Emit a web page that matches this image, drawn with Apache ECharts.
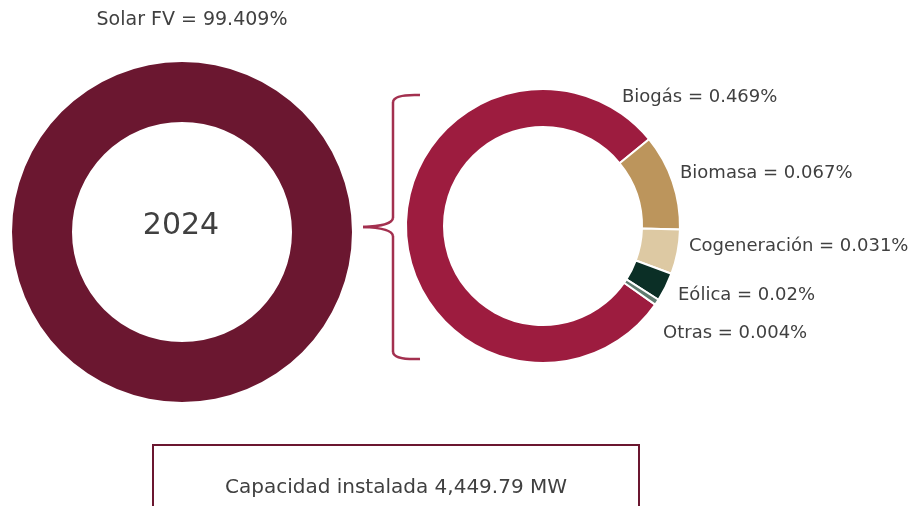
<!DOCTYPE html>
<html>
    <head>
        <meta charset="utf-8">
        <title>capacidad instalada 2024</title>
        <script src="https://cdn.jsdelivr.net/npm/echarts@6/dist/echarts.min.js"></script>
    </head>
    <body style="margin:0">
        <style>
            html, body, #main {
                width: 100%;
                height: 100%;
                background: #fff;
            }
        </style>
        <div id="main"></div>
        <script>
            // datos
            var year = '2024';
            var totalName = 'Solar FV';
            var totalValue = 99.409;
            var otherNames = ['Biogás', 'Biomasa', 'Cogeneración', 'Eólica', 'Otras'];
            var otherValues = [0.469, 0.067, 0.031, 0.02, 0.004];
            var capacityText = 'Capacidad instalada 4,449.79 MW';

            var otherColors = ['#9d1c3f', '#bc955c', '#ddc9a3', '#0b2f26', '#5f7b6f'];
            // where each label sits (left edge, middle)
            var otherLabelPos = [[622, 97], [680, 173], [689, 246], [678, 295], [663, 333]];

            var fontFamily = '"DejaVu Sans", sans-serif';
            var textColor = '#404040';
            var braceStyle = { stroke: '#a3304f', lineWidth: 2.5, fill: null };

            // the curly brace, as straight bits and curves
            function brace() {
                var segs = [
                    ['bezierCurve', { x1: 420, y1: 95, cpx1: 394, cpy1: 94, x2: 393, y2: 102 }],
                    ['line', { x1: 393, y1: 102, x2: 393, y2: 218 }],
                    ['bezierCurve', { x1: 393, y1: 218, cpx1: 392, cpy1: 226, x2: 363, y2: 227 }],
                    ['bezierCurve', { x1: 363, y1: 227, cpx1: 392, cpy1: 228, x2: 393, y2: 236 }],
                    ['line', { x1: 393, y1: 236, x2: 393, y2: 352 }],
                    ['bezierCurve', { x1: 393, y1: 352, cpx1: 394, cpy1: 360, x2: 420, y2: 359 }]
                ];
                return segs.map(function (s) {
                    return { type: s[0], shape: s[1], style: braceStyle, silent: true };
                });
            }

            function labelStyle(size) {
                return {
                    show: true,
                    formatter: '{b} = {c}%',
                    color: textColor,
                    fontFamily: fontFamily,
                    fontSize: size,
                    overflow: 'none',
                    width: 400
                };
            }

            var chart = echarts.init(document.getElementById('main'));

            chart.setOption({
                animation: false,
                series: [
                    {
                        type: 'pie',
                        center: [182, 232],
                        radius: [110, 170],
                        startAngle: 90,
                        silent: true,
                        itemStyle: { color: '#6b1730' },
                        label: labelStyle(19),
                        labelLine: { show: false },
                        labelLayout: function () {
                            return { x: 192, y: 20, align: 'center', verticalAlign: 'middle' };
                        },
                        data: [{ name: totalName, value: totalValue }]
                    },
                    {
                        type: 'pie',
                        center: [543, 226],
                        radius: [99, 137],
                        startAngle: 325,
                        silent: true,
                        avoidLabelOverlap: false,
                        itemStyle: { borderColor: '#fff', borderWidth: 2 },
                        label: labelStyle(18),
                        labelLine: { show: false },
                        labelLayout: function (p) {
                            var pos = otherLabelPos[p.dataIndex];
                            return { x: pos[0], y: pos[1], align: 'left', verticalAlign: 'middle' };
                        },
                        data: otherNames.map(function (n, i) {
                            return { name: n, value: otherValues[i], itemStyle: { color: otherColors[i] } };
                        })
                    }
                ],
                graphic: brace().concat([
                    {
                        type: 'text',
                        x: 181,
                        y: 226,
                        style: {
                            text: year,
                            fill: textColor,
                            font: '30px ' + fontFamily,
                            align: 'center',
                            verticalAlign: 'middle'
                        }
                    },
                    {
                        type: 'rect',
                        shape: { x: 153, y: 445, width: 486, height: 80 },
                        style: { fill: '#fff', stroke: '#6b1730', lineWidth: 2 }
                    },
                    {
                        type: 'text',
                        x: 396,
                        y: 488,
                        style: {
                            text: capacityText,
                            fill: textColor,
                            font: '20px ' + fontFamily,
                            align: 'center',
                            verticalAlign: 'middle'
                        }
                    }
                ])
            });

            window.addEventListener('resize', function () {
                chart.resize();
            });
        </script>
    </body>
</html>
